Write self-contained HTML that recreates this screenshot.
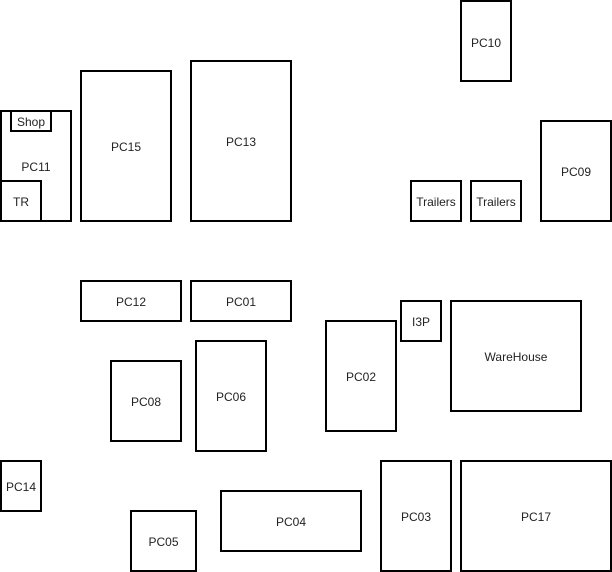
<!DOCTYPE html>
<html><head><meta charset="utf-8"><style>
html,body{margin:0;padding:0;background:#fff;}
svg{display:block;}
text{font-family:"Liberation Sans",Arial,sans-serif;font-size:12px;fill:#222;text-anchor:middle;dominant-baseline:central;}
rect{fill:#fff;stroke:#000;stroke-width:2;}
</style></head><body>
<svg width="612" height="572" viewBox="0 0 612 572" xmlns="http://www.w3.org/2000/svg">
<g>
<rect x="461" y="1" width="50" height="80"/>
<rect x="541" y="121" width="70" height="100"/>
<rect x="411" y="181" width="50" height="40"/>
<rect x="471" y="181" width="50" height="40"/>
<rect x="1" y="111" width="70" height="110"/>
<rect x="11" y="111" width="40" height="20"/>
<rect x="1" y="181" width="40" height="40"/>
<rect x="81" y="71" width="90" height="150"/>
<rect x="191" y="61" width="100" height="160"/>
<rect x="81" y="281" width="100" height="40"/>
<rect x="191" y="281" width="100" height="40"/>
<rect x="401" y="301" width="40" height="40"/>
<rect x="451" y="301" width="130" height="110"/>
<rect x="326" y="321" width="70" height="110"/>
<rect x="111" y="361" width="70" height="80"/>
<rect x="196" y="341" width="70" height="110"/>
<rect x="1" y="461" width="40" height="50"/>
<rect x="131" y="511" width="65" height="60"/>
<rect x="221" y="491" width="140" height="60"/>
<rect x="381" y="461" width="70" height="110"/>
<rect x="461" y="461" width="150" height="110"/>
</g>
<g transform="translate(0,1)">
<text x="486" y="42">PC10</text>
<text x="576" y="171">PC09</text>
<text x="436" y="201">Trailers</text>
<text x="496" y="201">Trailers</text>
<text x="36" y="166">PC11</text>
<text x="31" y="121">Shop</text>
<text x="21" y="201">TR</text>
<text x="126" y="146">PC15</text>
<text x="241" y="141">PC13</text>
<text x="131" y="301">PC12</text>
<text x="241" y="301">PC01</text>
<text x="421" y="321">I3P</text>
<text x="516" y="356">WareHouse</text>
<text x="361" y="376">PC02</text>
<text x="146" y="401">PC08</text>
<text x="231" y="396">PC06</text>
<text x="21" y="486">PC14</text>
<text x="163.5" y="541">PC05</text>
<text x="291" y="521">PC04</text>
<text x="416" y="516">PC03</text>
<text x="536" y="516">PC17</text>
</g>
</svg>
</body></html>
